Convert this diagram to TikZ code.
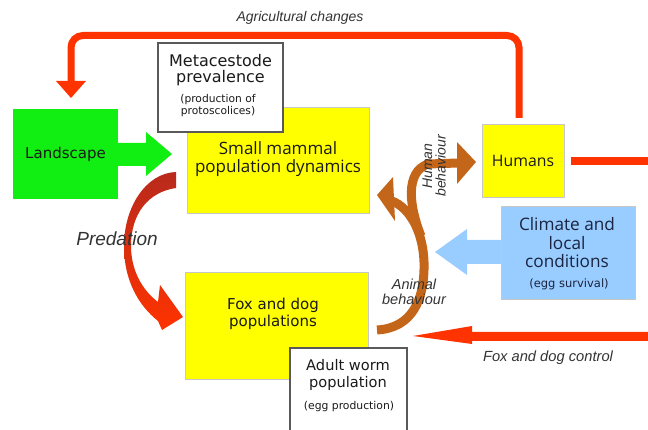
\documentclass[tikz,border=0pt]{standalone}
\usepackage{fontspec}
\setmainfont{Open Sans}
\newfontfamily\labelfont{Liberation Sans}
\newfontfamily\comicfont{DejaVu Sans}
\definecolor{ared}{HTML}{FF3300}
\definecolor{pdark}{HTML}{B82A1C}
\definecolor{lgreen}{HTML}{11EE11}
\definecolor{yel}{HTML}{FFFF00}
\definecolor{skyb}{HTML}{99CCFF}
\definecolor{brn}{HTML}{C4661A}
\definecolor{navy}{HTML}{1A2440}
\definecolor{txt}{HTML}{1A1A1A}
\tikzset{
  box/.style={draw=black!22, line width=0.6pt, inner sep=0pt, outer sep=0pt},
  wbox/.style={draw=black!65, line width=1.2pt, fill=white, inner sep=0pt, outer sep=0pt},
  lbl/.style={font=\labelfont\itshape, text=black!80, inner sep=0pt, align=center},
  big/.style={font=\fontsize{17}{18}\selectfont, text=txt, inner sep=0pt, align=center},
  comic/.style={font=\comicfont\fontsize{15}{17}\selectfont, text=txt, inner sep=0pt, align=center},
  small/.style={font=\comicfont\fontsize{10.7}{12}\selectfont, text=txt, inner sep=0pt, align=center},
}
\begin{document}
\begin{tikzpicture}[x=1pt,y=-1pt]
\useasboundingbox (0,0) rectangle (648,430);

% boxes
\node[box, fill=lgreen, draw=none, minimum width=105, minimum height=90] (land) at (65.5,154) {};
\node[box, fill=yel, minimum width=182, minimum height=106] (mammal) at (278,160) {};
\node[box, fill=yel, minimum width=183, minimum height=107] (fox) at (276.5,325.5) {};
\node[box, fill=yel, minimum width=82, minimum height=73] (humans) at (523,160.5) {};
\node[box, fill=skyb, minimum width=134, minimum height=93] (climate) at (568,252.5) {};
\node[wbox, minimum width=125, minimum height=89] (meta) at (220.5,87.5) {};
\node[wbox, minimum width=117, minimum height=90] (worm) at (348.5,393) {};

% green arrow
\fill[lgreen] (land.east |- 0,143) -- (146,143) -- (146,132) -- (172,154) -- (146,176) -- (146,166) -- (land.east |- 0,166) -- cycle;

% blue arrow
\fill[skyb] (climate.west |- 0,240) -- (467,240) -- (467,229) -- (435,252) -- (467,275) -- (467,264) -- (climate.west |- 0,264) -- cycle;

% fox and dog control arrow
\coordinate (rightedge) at (648,336.5);
\fill[ared] (rightedge |- 0,332) -- (472,332) -- (472,326) -- (413,336) -- (472,344) -- (472,341) -- (rightedge |- 0,341) -- cycle;

% agricultural changes arrow
\coordinate (agend) at (71,82);
\draw[ared, line width=7pt, rounded corners=12pt] (humans.north -| 519,0) ++(0,-6) -- (519,35.5) -- (71,35.5) -- (agend);
\fill[ared] (56,81) -- (86,81) -- (71,98) -- cycle;

% humans right line
\coordinate (hright) at (648,161);
\draw[ared, line width=8pt] (571,161) -- (hright);

% predation arrow
\shade[top color=pdark, bottom color=ared]
  (176,172) .. controls (146,173) and (124,207) .. (124,246)
  .. controls (124,280) and (138,305) .. (158,321)
  -- (162,330) -- (183,317) -- (160,285) -- (158,302)
  .. controls (142,290) and (131,270) .. (131,246)
  .. controls (131,214) and (148,192) .. (176,188) -- cycle;

% animal behaviour arrow
\draw[brn, line width=9pt] (377,330) .. controls (412,328) and (425,300) .. (424,262)
  .. controls (423,232) and (410,208) .. (392,201);
\fill[brn] (377,195) -- (393,177) -- (395,221) -- cycle;
% human behaviour arrow
\draw[brn, line width=9pt] (421,236) .. controls (409,206) and (405,172) .. (428,164) -- (458,163);
\fill[brn] (476,162) -- (457,142) -- (457,184) -- cycle;

% texts
\node[comic, font=\comicfont\fontsize{15}{17}\selectfont] (landt) at (land) {Landscape};
\node[big] (mammalt) at (278,159) {Small mammal\\population dynamics};
\node[big, font=\fontsize{15.8}{17}\selectfont] (humanst) at (humans) {Humans};
\node[big, text=navy, font=\fontsize{17.2}{18.5}\selectfont] (climatet) at (567,243) {Climate and\\local\\conditions};
\node[small, text=navy, font=\comicfont\fontsize{11.5}{12}\selectfont] (climates) at (569,284) {(egg survival)};
\node[comic, font=\comicfont\fontsize{16}{16.5}\selectfont] (metat) at (220.5,70) {Metacestode\\prevalence};
\node[small] (metas) at (218,106) {(production of\\protoscolices)};
\node[comic] (foxt) at (273,314) {Fox and dog\\populations};
\node[comic, font=\comicfont\fontsize{14.6}{17}\selectfont] (wormt) at (348,374.5) {Adult worm\\population};
\node[small, font=\comicfont\fontsize{10.8}{12}\selectfont] (worms) at (349,407) {(egg production)};

\node[lbl, font=\labelfont\itshape\fontsize{14}{16}\selectfont] (agri) at (300,18) {Agricultural changes};
\node[lbl, font=\labelfont\itshape\fontsize{19}{21}\selectfont] (pred) at (117,239) {Predation};
\node[lbl, font=\labelfont\itshape\fontsize{14}{13.5}\selectfont, rotate=90] (hb) at (434,166) {Human\\behaviour};
\node[lbl, font=\labelfont\itshape\fontsize{14.5}{15}\selectfont] (ab) at (414,292) {Animal\\behaviour};
\node[lbl, font=\labelfont\itshape\fontsize{14.7}{16}\selectfont] (fdc) at (548,358) {Fox and dog control};
\end{tikzpicture}
\end{document}
